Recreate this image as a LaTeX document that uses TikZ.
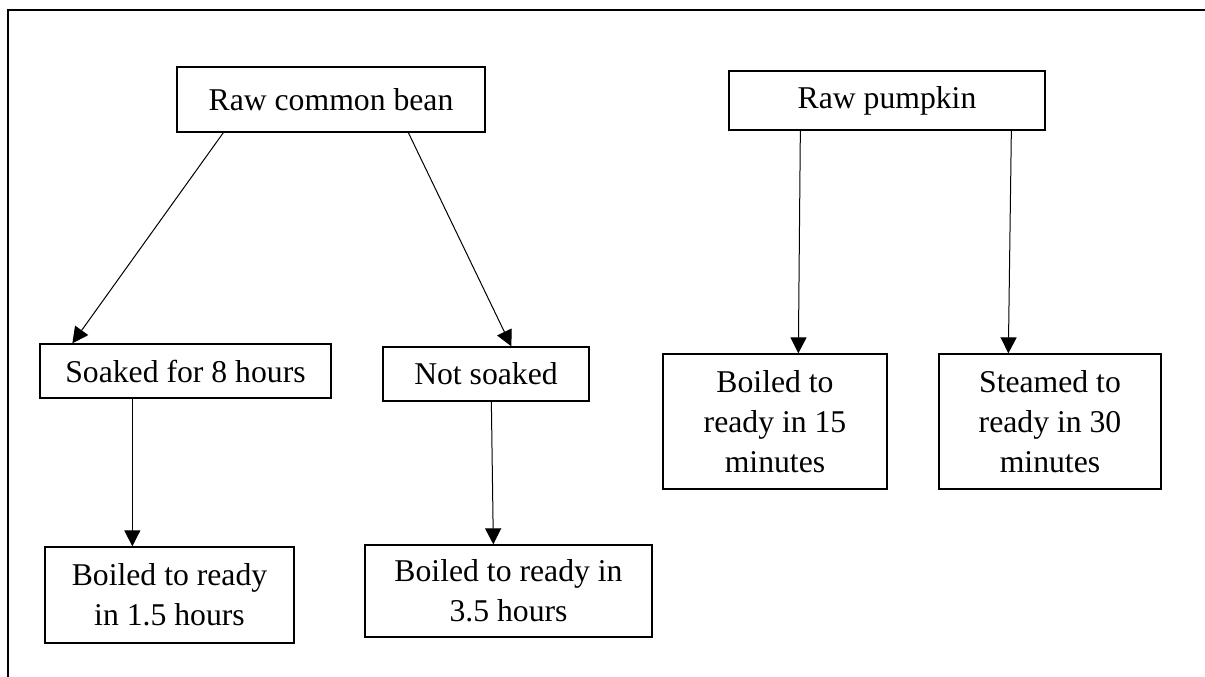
\documentclass[tikz,border=0pt]{standalone}
\usepackage{fontspec}
\setmainfont{Liberation Serif}
\usetikzlibrary{arrows.meta,calc}
\tikzset{
  box/.style={draw=black, line width=1.3pt, rectangle, inner sep=0pt, align=center,
    font=\fontsize{31.7}{40}\selectfont},
  conn/.style={draw=black, line width=1pt, -{Triangle[length=16pt,width=16pt]}},
  frame/.style={draw=black, line width=2.8pt}
}
\begin{document}
\begin{tikzpicture}[x=1pt,y=-1pt]
\useasboundingbox (0,0) rectangle (1205,677);
% outer frame (top and left only)
\coordinate (ftl) at (8,10);
\coordinate (ftr) at (1205,10);
\coordinate (fbl) at (8,677);
\draw[frame] (ftr) -- (ftl) -- (fbl);

\node[box, minimum width=308, minimum height=65] (bean) at (331,99.5) {Raw common bean};
\node[box, minimum width=316, minimum height=59] (pump) at (887,100.5) {Raw pumpkin};
\node[box, minimum width=291, minimum height=54] (soak) at (185.5,371) {Soaked for 8 hours};
\node[box, minimum width=206, minimum height=54] (nots) at (486,374) {Not soaked};
\node[box, minimum width=249, minimum height=96] (b15h) at (169.5,595) {Boiled to ready\\in 1.5 hours};
\node[box, minimum width=287, minimum height=92] (b35h) at (508.5,591) {Boiled to ready in\\3.5 hours};
\node[box, minimum width=224, minimum height=135] (b15m) at (775,421.5) {Boiled to\\ready in 15\\minutes};
\node[box, minimum width=222, minimum height=135] (st30) at (1050,421.5) {Steamed to\\ready in 30\\minutes};

\draw[conn] ($(bean.south west)+(47,0)$) -- ($(soak.north west)+(33,0)$);
\draw[conn] ($(bean.south west)+(232,0)$) -- ($(nots.north west)+(129,0)$);
\draw[conn] ($(soak.south west)+(93,0)$) -- ($(b15h.north west)+(88,0)$);
\draw[conn] ($(nots.south west)+(109,0)$) -- ($(b35h.north west)+(129,0)$);
\draw[conn] ($(pump.south west)+(72,0)$) -- ($(b15m.north west)+(136,0)$);
\draw[conn] ($(pump.south west)+(283,0)$) -- ($(st30.north west)+(70,0)$);
\end{tikzpicture}
\end{document}
